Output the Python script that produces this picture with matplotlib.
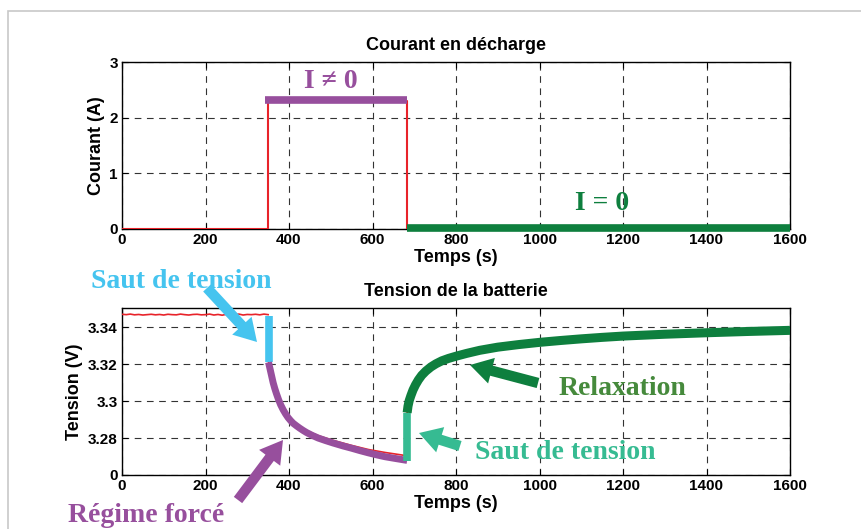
import numpy as np
import matplotlib
matplotlib.use("Agg")
import matplotlib.pyplot as plt
from matplotlib.patches import Rectangle, FancyArrowPatch

# ---- data ----
# current (A)
t_cur = [0, 350, 350, 683, 683, 1600]
i_cur = [0, 0, 2.3, 2.3, 0, 0]
i_on_level = 2.32          # purple bar  "I != 0"
t_on = [342, 683]
t_off = [683, 1600]

# voltage (V), rest before discharge (measured, noisy)
t_rest = [0, 10, 20, 30, 40, 50, 60, 70, 80, 90, 100, 110, 120, 130, 140, 150,
          160, 170, 180, 190, 200, 210, 220, 230, 240, 250, 260, 270, 280, 290,
          300, 310, 320, 330, 340, 350]
v_rest = [3.3470, 3.3468, 3.3471, 3.3467, 3.3469, 3.3466, 3.3468, 3.3470, 3.3467,
          3.3469, 3.3466, 3.3470, 3.3468, 3.3467, 3.3471, 3.3468, 3.3466, 3.3469,
          3.3470, 3.3467, 3.3468, 3.3471, 3.3466, 3.3469, 3.3465, 3.3470, 3.3467,
          3.3468, 3.3471, 3.3466, 3.3469, 3.3468, 3.3470, 3.3467, 3.3471, 3.3468]

# jump at start of discharge
t_jump1 = [351, 351]
v_jump1 = [3.3463, 3.3212]

# forced regime (discharge)
t_forced = [351, 354, 358, 362, 366, 370, 375, 380, 386, 392, 398, 404, 410, 418,
            426, 434, 442, 455, 470, 488, 506, 530, 550, 570, 590, 610, 630, 656, 683]
v_forced = [3.3210, 3.3180, 3.3140, 3.3100, 3.3068, 3.3040, 3.3008, 3.2980, 3.2953,
            3.2930, 3.2910, 3.2894, 3.2880, 3.2866, 3.2853, 3.2841, 3.2830, 3.2815,
            3.2800, 3.2786, 3.2773, 3.2757, 3.2745, 3.2732, 3.2720, 3.2709, 3.2699,
            3.2689, 3.2679]
# measured trace, slightly above the highlighted curve
t_forced_meas = [351, 370, 398, 426, 442, 470, 506, 550, 590, 630, 683]
v_forced_meas = [3.3212, 3.3042, 3.2913, 3.2860, 3.2840, 3.2813, 3.2787, 3.2760,
                 3.2738, 3.2722, 3.2704]

# jump at end of discharge
t_jump2 = [683, 683]
v_jump2 = [3.2675, 3.2937]

# relaxation
t_relax = [683, 685, 688, 692, 697, 703, 710, 718, 728, 740, 752, 766, 782, 800,
           825, 857, 900, 950, 1000, 1050, 1100, 1150, 1200, 1300, 1400, 1500, 1600]
v_relax = [3.2937, 3.2972, 3.3003, 3.3030, 3.3060, 3.3088, 3.3115, 3.3140, 3.3163,
           3.3185, 3.3202, 3.3218, 3.3231, 3.3243, 3.3258, 3.3275, 3.3292, 3.3306,
           3.3318, 3.3328, 3.3337, 3.3345, 3.3352, 3.3362, 3.3370, 3.3377, 3.3383]

v_ticks = [3.26, 3.28, 3.30, 3.32, 3.34]
v_ticklabels = ['0', '3.28', '3.3', '3.32', '3.34']

red = '#e8232a'
purple = '#974f9d'
green = '#0e7f3e'
sky = '#45c4ef'
teal = '#36bb92'
relax_txt = '#468a3c'

W, H = 861, 529
fig = plt.figure(figsize=(W / 100, H / 100), dpi=100)
fig.patch.set_facecolor('white')

# light grey frame
fig.add_artist(Rectangle((8 / W, -0.1), 1.2, (H - 11) / H + 0.1, transform=fig.transFigure,
                         fill=False, edgecolor='#c8c8c8', lw=1.2, clip_on=False))

sans = 'Liberation Sans'
serif = 'Liberation Serif'


def style_axes(ax):
    ax.grid(True, linestyle=(0, (6, 5)), color='#333333', lw=0.8)
    ax.tick_params(direction='in', top=True, right=True, length=4, width=0.8,
                   labelsize=11, pad=3)
    for lab in ax.get_xticklabels() + ax.get_yticklabels():
        lab.set_fontweight('bold')
        lab.set_family(sans)
    for s in ax.spines.values():
        s.set_linewidth(1.0)
    ax.set_xlim(0, 1600)
    ax.set_xticks(range(0, 1601, 200))
    ax.set_xlabel('Temps (s)', fontsize=13, fontweight='bold', family=sans, labelpad=1)


# ---- top: current ----
ax1 = fig.add_axes([122 / W, (H - 229) / H, 668 / W, 167 / H])
ax1.plot(t_cur, i_cur, color=red, lw=1.5, zorder=3)
ax1.plot(t_on, [i_on_level, i_on_level], color=purple, lw=5.5, solid_capstyle='butt', zorder=4)
ax1.plot(t_off, [0.02, 0.02], color=green, lw=5.5, solid_capstyle='butt', zorder=4,
         clip_on=False)
ax1.set_ylim(0, 3)
ax1.set_yticks([0, 1, 2, 3])
style_axes(ax1)
ax1.set_ylabel('Courant (A)', fontsize=13, fontweight='bold', family=sans, labelpad=3)
ax1.set_title('Courant en décharge', fontsize=13, fontweight='bold', family=sans, pad=9)

# ---- bottom: voltage ----
ax2 = fig.add_axes([122 / W, (H - 475) / H, 668 / W, 167 / H])
ax2.plot(t_rest, v_rest, color=red, lw=1.2, zorder=3)
ax2.plot(t_forced_meas, v_forced_meas, color=red, lw=1.2, zorder=3)
ax2.plot(t_relax, v_relax, color=red, lw=1.2, zorder=3)
ax2.plot(t_jump1, v_jump1, color=sky, lw=5.5, solid_capstyle='butt', zorder=4)
ax2.plot(t_forced, v_forced, color=purple, lw=5, solid_capstyle='butt', zorder=4)
ax2.plot(t_jump2, v_jump2, color=teal, lw=5.5, solid_capstyle='butt', zorder=5)
ax2.plot(t_relax, v_relax, color=green, lw=6.5, solid_capstyle='butt', zorder=4)
ax2.set_ylim(3.26, 3.3504)
ax2.set_yticks(v_ticks)
ax2.set_yticklabels(v_ticklabels)
style_axes(ax2)
ax2.set_ylabel('Tension (V)', fontsize=13, fontweight='bold', family=sans, labelpad=4)
ax2.set_title('Tension de la batterie', fontsize=13, fontweight='bold', family=sans, pad=9)


# ---- annotations (figure pixel positions, y from top) ----
def label(x, y, s, color):
    fig.text(x / W, 1 - y / H, s, color=color, fontsize=20, fontweight='bold',
             family=serif, ha='center', va='baseline')


def arrow(tail, tip, color):
    fig.add_artist(FancyArrowPatch(
        (tail[0] / W, 1 - tail[1] / H), (tip[0] / W, 1 - tip[1] / H),
        transform=fig.transFigure,
        arrowstyle='simple,head_width=19,head_length=16,tail_width=7.5',
        mutation_scale=1, color=color, lw=0, shrinkA=0, shrinkB=0, zorder=10))


label(331, 88, 'I ≠ 0', purple)
label(602, 210, 'I = 0', green)
label(181, 288, 'Saut de tension', sky)
label(146, 522, 'Régime forcé', purple)
label(622, 395, 'Relaxation', relax_txt)
label(565, 459, 'Saut de tension', teal)

arrow((207, 288), (257, 342), sky)
arrow((238, 500), (283, 440), purple)
arrow((538, 383), (470, 365), green)
arrow((460, 446), (419, 433), teal)

fig.savefig('out.png', dpi=100)
